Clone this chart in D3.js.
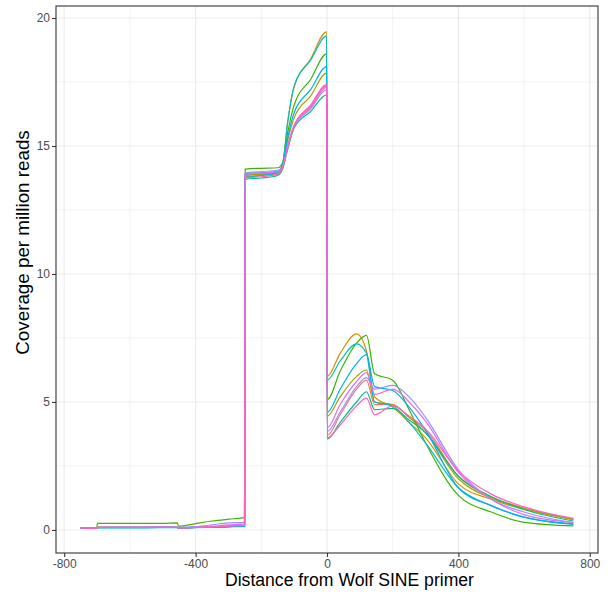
<!DOCTYPE html>
<meta charset="utf-8">
<script src="https://d3js.org/d3.v7.min.js"></script>
<style>
  body { margin: 0; background: #fff; }
  text { font-family: "Liberation Sans", Arial, sans-serif; }
</style>
<div id="chart"></div>
<script>
// shared x positions (distance from primer)
var xs = [-750, -701, -699, -600, -500, -456, -452, -400, -350, -300, -251,
          -249, -200, -150, -135, -120, -100, -50, -1,
          1, 40, 90, 120, 145, 200, 250, 300, 400, 500, 600, 750];

var sampleNames = ["s1","s2","s3","s4","s5","s6","s7","s8","s9","s10"];
var sampleColors = ["#F8766D","#D89000","#A3A500","#39B600","#00BF7D",
                    "#00BFC4","#00B0F6","#9590FF","#E76BF3","#FF62BC"];

// coverage per million reads, one list per sample, aligned to xs
var s1 = [0.07,0.07,0.1,0.1,0.1,0.1,0.08,0.1,0.12,0.15,0.18,
          13.8,13.85,13.92,14.15,14.95,15.8,16.55,17.35,
          3.7,4.5,5.5,5.85,4.9,4.9,4.4,3.9,2.1,1.3,0.85,0.42];
var s2 = [0.07,0.07,0.1,0.1,0.1,0.1,0.08,0.1,0.12,0.14,0.17,
          13.85,13.9,14.0,14.3,15.9,17.3,18.4,19.46,
          6.0,6.9,7.66,7.0,5.2,4.8,4.2,3.6,1.8,1.2,0.8,0.42];
var s3 = [0.07,0.07,0.1,0.1,0.1,0.1,0.08,0.1,0.12,0.15,0.18,
          13.85,13.9,13.95,14.2,15.2,16.1,16.95,17.85,
          4.45,5.2,6.0,6.25,5.0,4.9,4.4,3.8,2.0,1.25,0.85,0.4];
var s4 = [0.07,0.07,0.26,0.26,0.26,0.28,0.15,0.25,0.35,0.42,0.48,
          14.1,14.13,14.15,14.35,15.5,16.6,17.6,18.6,
          5.1,6.2,7.3,7.6,6.1,5.85,4.7,3.4,1.35,0.7,0.3,0.16];
var s5 = [0.07,0.07,0.09,0.09,0.1,0.1,0.08,0.1,0.11,0.13,0.15,
          13.7,13.75,13.85,14.1,14.85,15.7,16.35,17.0,
          3.55,4.2,5.0,5.4,4.7,4.75,4.3,3.8,2.1,1.3,0.8,0.35];
var s6 = [0.07,0.07,0.09,0.09,0.09,0.09,0.08,0.09,0.1,0.12,0.14,
          13.75,13.85,13.95,14.3,15.9,17.35,18.35,19.3,
          5.86,6.6,7.27,6.9,5.0,4.85,4.2,3.4,1.65,0.95,0.5,0.22];
var s7 = [0.07,0.07,0.09,0.09,0.1,0.1,0.08,0.1,0.11,0.13,0.16,
          13.9,13.95,14.0,14.25,15.3,16.3,17.2,18.1,
          4.6,5.5,6.5,6.85,5.6,5.45,4.8,3.9,1.65,0.95,0.5,0.24];
var s8 = [0.07,0.07,0.1,0.11,0.12,0.12,0.1,0.13,0.2,0.28,0.3,
          13.95,14.0,14.05,14.2,14.95,15.75,16.45,17.2,
          3.85,4.6,5.6,5.95,5.5,5.65,5.2,4.4,2.35,1.2,0.7,0.28];
var s9 = [0.07,0.07,0.1,0.1,0.11,0.11,0.09,0.11,0.14,0.2,0.24,
          13.9,13.95,14.0,14.2,15.0,15.8,16.5,17.3,
          4.0,4.9,5.8,6.15,5.3,5.5,5.0,4.25,2.25,1.2,0.6,0.3];
var s10 = [0.07,0.07,0.1,0.1,0.1,0.1,0.08,0.1,0.12,0.15,0.18,
          13.75,13.8,13.9,14.15,14.95,15.8,16.6,17.4,
          3.6,4.1,4.85,5.15,4.5,4.85,4.45,3.95,2.3,1.4,0.9,0.45];

var seriesValues = [s1, s2, s3, s4, s5, s6, s7, s8, s9, s10];

var xTicks = [-800, -400, 0, 400, 800];
var xMinor = [-600, -200, 200, 600];
var yTicks = [0, 5, 10, 15, 20];
var yMinor = [2.5, 7.5, 12.5, 17.5];

var width = 611, height = 595;
var margin = {top: 6, right: 13, bottom: 42, left: 56};
var pw = width - margin.left - margin.right,
    ph = height - margin.top - margin.bottom;

var svg = d3.select("#chart").append("svg")
    .attr("width", width).attr("height", height);

var g = svg.append("g")
    .attr("transform", "translate(" + margin.left + "," + margin.top + ")");

var x = d3.scaleLinear().domain([-825, 825]).range([0, pw]);
var y = d3.scaleLinear().domain([-0.9, 20.47]).range([ph, 0]);

// grid
g.selectAll(".xminor").data(xMinor).enter().append("line")
    .attr("x1", d => x(d)).attr("x2", d => x(d)).attr("y1", 0).attr("y2", ph)
    .style("stroke", "#EBEBEB").style("stroke-width", 0.6);
g.selectAll(".yminor").data(yMinor).enter().append("line")
    .attr("y1", d => y(d)).attr("y2", d => y(d)).attr("x1", 0).attr("x2", pw)
    .style("stroke", "#EBEBEB").style("stroke-width", 0.6);
g.selectAll(".xmajor").data(xTicks).enter().append("line")
    .attr("x1", d => x(d)).attr("x2", d => x(d)).attr("y1", 0).attr("y2", ph)
    .style("stroke", "#EBEBEB").style("stroke-width", 1.1);
g.selectAll(".ymajor").data(yTicks).enter().append("line")
    .attr("y1", d => y(d)).attr("y2", d => y(d)).attr("x1", 0).attr("x2", pw)
    .style("stroke", "#EBEBEB").style("stroke-width", 1.1);

// lines
var line = d3.line()
    .x(function(d, i) { return x(xs[i]); })
    .y(function(d) { return y(d); })
    .curve(d3.curveMonotoneX);

g.selectAll(".series").data(seriesValues).enter().append("path")
    .attr("d", d => line(d))
    .style("fill", "none")
    .style("stroke", (d, i) => sampleColors[i])
    .style("stroke-width", 1.2);

// panel border
g.append("rect").attr("width", pw).attr("height", ph)
    .style("fill", "none").style("stroke", "#333333").style("stroke-width", 1.1);

// axes
var xAxis = g.append("g").attr("transform", "translate(0," + ph + ")")
    .call(d3.axisBottom(x).tickValues(xTicks).tickSize(4).tickPadding(2));
var yAxis = g.append("g")
    .call(d3.axisLeft(y).tickValues(yTicks).tickSize(4).tickPadding(2));
[xAxis, yAxis].forEach(function(a) {
  a.select(".domain").remove();
  a.selectAll(".tick line").style("stroke", "#333333").style("stroke-width", 1.1);
  a.selectAll(".tick text").style("fill", "#4D4D4D").style("font-size", "12px")
    .style("font-family", "'Liberation Sans', Arial, sans-serif");
});
xAxis.selectAll(".tick text").text(d => d < 0 ? "-" + Math.abs(d) : d);

svg.append("text")
    .attr("x", 349.5).attr("y", 586)
    .attr("text-anchor", "middle")
    .style("font-size", "17.6px").style("fill", "#000")
    .text("Distance from Wolf SINE primer");

svg.append("text")
    .attr("transform", "translate(29,242.5) rotate(-90)")
    .attr("text-anchor", "middle")
    .style("font-size", "18.8px").style("fill", "#000")
    .text("Coverage per million reads");
</script>
